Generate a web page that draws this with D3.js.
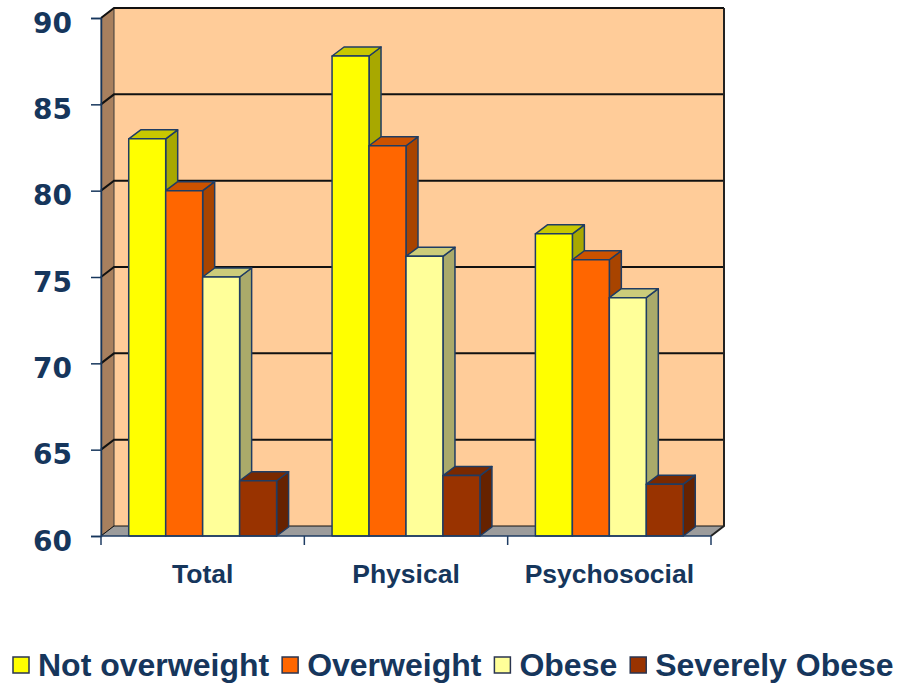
<!DOCTYPE html>
<html>
<head>
<meta charset="utf-8">
<script src="https://cdn.jsdelivr.net/npm/d3@7"></script>
<style>
  html, body { margin: 0; padding: 0; background: #ffffff; }
  svg { display: block; }
</style>
</head>
<body>
<svg id="chart" width="899" height="683"></svg>
<script>
// Quality-of-life scores by weight group
const categories = ["Total", "Physical", "Psychosocial"];
const seriesNames = ["Not overweight", "Overweight", "Obese", "Severely Obese"];
const notOverweight = [83.0, 87.8, 77.5];
const overweight    = [80.0, 82.6, 76.0];
const obese         = [75.0, 76.2, 73.8];
const severelyObese = [63.2, 63.5, 63.0];
const yTicks = [60, 65, 70, 75, 80, 85, 90];

const seriesValues = [notOverweight, overweight, obese, severelyObese];

// face colours per series: front, top, side
const palette = [
  { front: "#FFFF00", top: "#C8C800", side: "#A8A800" },
  { front: "#FF6600", top: "#CC5200", side: "#A84400" },
  { front: "#FFFF99", top: "#CCCC7A", side: "#AAAA6A" },
  { front: "#993300", top: "#7A2900", side: "#662200" }
];

const navy = "#16365C";
const outline = "#1F3C63";

const svg = d3.select("#chart");

// front-plane geometry
const plotLeft = 101, plotRight = 711, plotBottom = 536, plotTop = 18;
const wallDX = 13, wallDY = -10;   // depth of the walls
const barDX = 12, barDY = -9;      // depth of each bar

const y = d3.scaleLinear().domain([60, 90]).range([plotBottom, plotTop]);
const x0 = d3.scaleBand().domain(categories).range([plotLeft, plotRight]).padding(0);
const x1 = d3.scaleBand().domain(seriesNames).range([0, x0.bandwidth()])
  .paddingInner(0).paddingOuter(0.75);

const line = d3.line();

// back wall
svg.append("path")
  .attr("d", line([[plotLeft + wallDX, plotTop + wallDY], [plotRight + wallDX, plotTop + wallDY],
                   [plotRight + wallDX, plotBottom + wallDY], [plotLeft + wallDX, plotBottom + wallDY]]) + "Z")
  .attr("fill", "#FFCC99");

// side wall
svg.append("path")
  .attr("d", line([[plotLeft, plotTop], [plotLeft + wallDX, plotTop + wallDY],
                   [plotLeft + wallDX, plotBottom + wallDY], [plotLeft, plotBottom]]) + "Z")
  .attr("fill", "#A8805E")
  .attr("stroke", "#3a3a3a").attr("stroke-width", 1);

// floor
svg.append("path")
  .attr("d", line([[plotLeft, plotBottom], [plotRight, plotBottom],
                   [plotRight + wallDX, plotBottom + wallDY], [plotLeft + wallDX, plotBottom + wallDY]]) + "Z")
  .attr("fill", "#9C9C9C");

// gridlines on the back and side walls
const grid = svg.append("g");
yTicks.forEach(t => {
  const yf = y(t);
  grid.append("path")
    .attr("d", line([[plotLeft, yf], [plotLeft + wallDX, yf + wallDY], [plotRight + wallDX, yf + wallDY]]))
    .attr("fill", "none")
    .attr("stroke", "#111111")
    .attr("stroke-width", t === 60 ? 1 : 2);
});
// back wall right edge
grid.append("path")
  .attr("d", line([[plotRight + wallDX, plotTop + wallDY], [plotRight + wallDX, plotBottom + wallDY], [plotRight, plotBottom]]))
  .attr("fill", "none").attr("stroke", "#222222").attr("stroke-width", 2);

// bars, drawn left to right so each covers its neighbour's side face
const bars = svg.append("g");
categories.forEach((cat, ci) => {
  seriesNames.forEach((s, si) => {
    const v = seriesValues[si][ci];
    const xa = x0(cat) + x1(s);
    const w = x1.bandwidth();
    const yv = y(v), yb = y(60);
    const col = palette[si];
    const g = bars.append("g")
      .attr("stroke", outline).attr("stroke-width", 1.5).attr("stroke-linejoin", "round");
    g.append("path")
      .attr("d", line([[xa + w, yv], [xa + w + barDX, yv + barDY],
                       [xa + w + barDX, yb + barDY], [xa + w, yb]]) + "Z")
      .attr("fill", col.side);
    g.append("path")
      .attr("d", line([[xa, yv], [xa + w, yv], [xa + w + barDX, yv + barDY], [xa + barDX, yv + barDY]]) + "Z")
      .attr("fill", col.top);
    g.append("rect")
      .attr("x", xa).attr("y", yv).attr("width", w).attr("height", yb - yv)
      .attr("fill", col.front);
  });
});

// value axis
const yAxis = svg.append("g")
  .attr("transform", `translate(${plotLeft},0)`)
  .call(d3.axisLeft(y).tickValues(yTicks).tickSize(10).tickPadding(19).tickFormat(d3.format("d")));
yAxis.select(".domain").attr("stroke", navy).attr("stroke-width", 1.5);
yAxis.selectAll(".tick line").attr("stroke", navy).attr("stroke-width", 1.5);
yAxis.selectAll(".tick text")
  .attr("fill", navy)
  .attr("dy", "0.5em")
  .style("font-family", "'DejaVu Sans', Verdana, sans-serif")
  .style("font-weight", "bold")
  .style("font-size", "28px");

// category axis
const xAxis = svg.append("g")
  .attr("transform", `translate(0,${plotBottom})`)
  .call(d3.axisBottom(x0).tickSize(0).tickPadding(28));
xAxis.select(".domain").remove();
xAxis.selectAll(".tick text")
  .attr("fill", navy)
  .style("font-family", "'Liberation Sans', Arial, sans-serif")
  .style("font-weight", "bold")
  .style("font-size", "26.5px");
svg.append("line")
  .attr("x1", plotLeft).attr("x2", plotRight).attr("y1", plotBottom).attr("y2", plotBottom)
  .attr("stroke", outline).attr("stroke-width", 1.5);
const bounds = categories.map(c => x0(c)).concat([x0.range()[1]]);
svg.append("g").selectAll("line").data(bounds).join("line")
  .attr("x1", d => d).attr("x2", d => d)
  .attr("y1", plotBottom).attr("y2", plotBottom + 9)
  .attr("stroke", outline).attr("stroke-width", 1.5);

// legend
const legend = svg.append("g");
let lx = 13;
seriesNames.forEach((s, si) => {
  legend.append("rect")
    .attr("x", lx).attr("y", 657).attr("width", 16).attr("height", 16)
    .attr("fill", palette[si].front)
    .attr("stroke", "#2a3550").attr("stroke-width", 1.5);
  const t = legend.append("text")
    .attr("x", lx + 25).attr("y", 676)
    .attr("fill", navy)
    .style("font-family", "'Liberation Sans', Arial, sans-serif")
    .style("font-weight", "bold")
    .style("font-size", "32px")
    .text(s);
  lx += 25 + t.node().getComputedTextLength() + 13;
});
</script>
</body>
</html>
